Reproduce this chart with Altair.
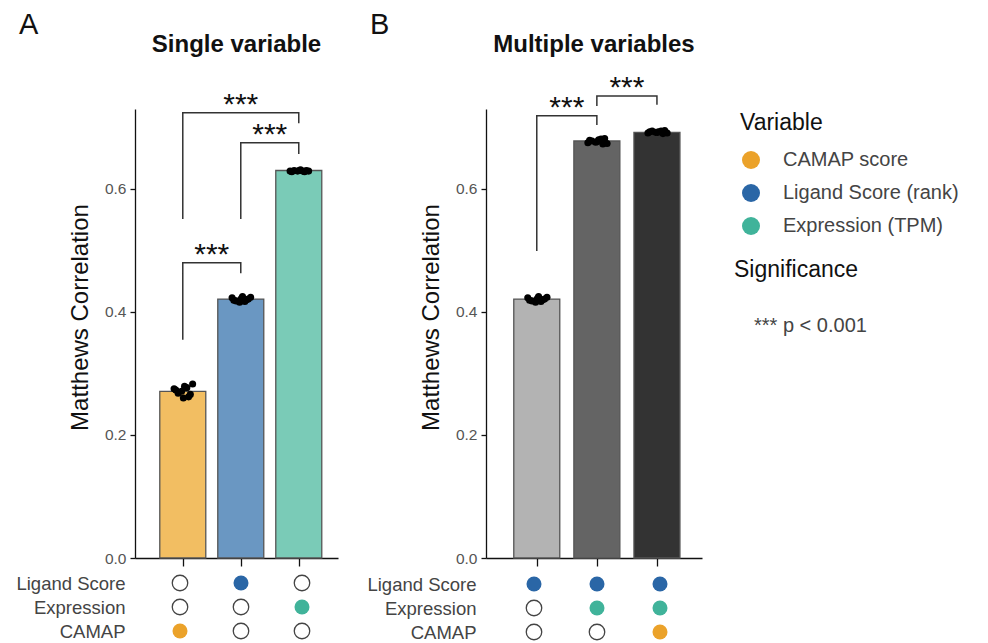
import altair as alt
import pandas as pd

FONT = "Liberation Sans"

# ---------------- data ----------------
single_names = ["CAMAP", "Ligand", "Expression"]
single_means = [0.271, 0.421, 0.630]
single_fills = ["#F2BE62", "#6A97C2", "#7ACBB7"]
single_reps = [
    [0.275, 0.268, 0.262, 0.279, 0.271, 0.266, 0.283, 0.273, 0.260, 0.277],
    [0.423, 0.418, 0.420, 0.425, 0.416, 0.421, 0.424, 0.419, 0.422, 0.417],
    [0.629, 0.630, 0.628, 0.631, 0.629, 0.630, 0.629, 0.628, 0.630, 0.629],
]

multi_names = ["Ligand", "Ligand + Expression", "Ligand + Expression + CAMAP"]
multi_means = [0.421, 0.678, 0.692]
multi_fills = ["#B3B3B3", "#646464", "#333333"]
multi_reps = [
    [0.423, 0.418, 0.420, 0.425, 0.416, 0.421, 0.424, 0.419, 0.422, 0.417],
    [0.675, 0.678, 0.673, 0.680, 0.676, 0.682, 0.674, 0.679, 0.677, 0.681],
    [0.691, 0.694, 0.690, 0.693, 0.692, 0.695, 0.691, 0.693, 0.692, 0.694],
]
rep_jitter = [-0.15, -0.08, 0.10, 0.03, -0.02, 0.13, 0.17, -0.12, 0.01, 0.07]

matrix_rows = ["Ligand Score", "Expression", "CAMAP"]
row_variables = ["Ligand Score (rank)", "Expression (TPM)", "CAMAP score"]
legend_order = ["CAMAP score", "Ligand Score (rank)", "Expression (TPM)"]
legend_colors = ["#EBA22A", "#2A66A6", "#40B39A"]
# membership per bar, in matrix_rows order
single_matrix = [[0, 0, 1], [1, 0, 0], [0, 1, 0]]
multi_matrix = [[1, 0, 0], [1, 1, 0], [1, 1, 1]]

# brackets: (from bar, to bar, top, left leg end, right leg end)
single_brackets = [(0, 1, 0.480, 0.355, 0.463),
                   (1, 2, 0.675, 0.551, 0.657),
                   (0, 2, 0.724, 0.551, 0.707)]
multi_brackets = [(0, 1, 0.719, 0.499, 0.704),
                  (1, 2, 0.751, 0.735, 0.737)]
sig_label = "***"
sig_meaning = "p < 0.001"

y_ticks = [0.0, 0.2, 0.4, 0.6]
y_max = 0.73

# legend placement (pixels, relative to the first plot's origin)
LEG_X = 605


def make_panel(names, means, fills, reps, matrix, brackets, title, letter,
               xdom, width, title_offset, gap):
    idx = list(range(len(names)))
    bars_df = pd.DataFrame({"idx": idx, "name": names, "mean": means})
    pts = []
    for i, vals in enumerate(reps):
        for j, v in zip(rep_jitter, vals):
            pts.append({"idx": i, "jit": j, "value": v})
    pts_df = pd.DataFrame(pts)
    br = []
    txt = []
    for b, (a, c, top, lo_a, lo_c) in enumerate(brackets):
        for k, (xx, yy) in enumerate([(a, lo_a), (a, top), (c, top), (c, lo_c)]):
            br.append({"bid": b, "ord": k, "x": xx, "y": yy})
        txt.append({"a": a, "c": c, "top": top, "label": sig_label,
                    "meaning": sig_meaning})
    br_df = pd.DataFrame(br)
    txt_df = pd.DataFrame(txt)

    xscale = alt.Scale(domain=xdom, nice=False, zero=False)
    yscale = alt.Scale(domain=[0, y_max], nice=False)
    xaxis = alt.Axis(values=idx, labels=False, title=None, grid=False,
                     tickSize=8, tickColor="#111", domainColor="#111",
                     tickWidth=1.3, domainWidth=1.3)
    yaxis = alt.Axis(values=y_ticks, format=".1f", grid=False,
                     title="Matthews Correlation", titleFontSize=24,
                     titleFontWeight="normal", titleColor="#111",
                     titlePadding=12, titleY=208,
                     labelFontSize=15.5, labelColor="#555",
                     labelPadding=4, tickSize=5, tickColor="#111",
                     domainColor="#111", tickWidth=1.3, domainWidth=1.3)
    YT = "Matthews Correlation"

    bars = alt.Chart(bars_df).mark_bar(size=46, stroke="#555", strokeWidth=1.3).encode(
        x=alt.X("idx:Q", scale=xscale, axis=xaxis, title=None),
        y=alt.Y("mean:Q", scale=yscale, axis=yaxis, title=YT),
        fill=alt.Fill("name:N", scale=alt.Scale(domain=names, range=fills), legend=None),
    )
    points = alt.Chart(pts_df).transform_calculate(
        xpos="datum.idx + datum.jit"
    ).mark_circle(size=50, color="black", opacity=1).encode(
        x=alt.X("xpos:Q", title=None),
        y=alt.Y("value:Q", title=YT),
    )
    lines = alt.Chart(br_df).mark_line(color="#333", strokeWidth=1.5).encode(
        x=alt.X("x:Q", title=None),
        y=alt.Y("y:Q", title=YT),
        detail="bid:N",
        order="ord:Q",
    )
    texts = alt.Chart(txt_df).transform_calculate(
        xmid="(datum.a + datum.c) / 2"
    ).mark_text(fontSize=30, baseline="alphabetic", dy=1, color="#111").encode(
        x=alt.X("xmid:Q", title=None),
        y=alt.Y("top:Q", title=YT),
        text="label:N",
        opacity=alt.Opacity(
            "meaning:N", scale=alt.Scale(range=[1]),
            legend=alt.Legend(
                title="Significance", orient="none", legendX=LEG_X - 6, legendY=150,
                titleFontSize=23, titleFontWeight="normal", titleColor="#111",
                titlePadding=34, labelFontSize=20, labelColor="#444",
                labelLimit=400,
                symbolSize=0, symbolStrokeWidth=0, symbolOpacity=0,
                labelOffset=0, padding=0,
                labelExpr="'***\u00a0' + datum.label",
            ),
        ),
    )
    top = alt.layer(bars, points, lines, texts).properties(
        width=width, height=round(y_max * 615),
        title=alt.Title(title, fontSize=24, fontWeight="bold", anchor="middle",
                        frame="group", offset=title_offset, color="#111"),
    )

    empty_rows, full_rows = [], []
    for i, mem in enumerate(matrix):
        for r, m in enumerate(mem):
            rec = {"idx": i, "row": matrix_rows[r], "variable": row_variables[r]}
            (full_rows if m else empty_rows).append(rec)
    rows_axis = alt.Axis(title=None, domain=False, ticks=False, grid=False,
                         labelFontSize=18.5, labelColor="#444", labelPadding=10)
    yrow = alt.Y("row:N", sort=matrix_rows,
                 scale=alt.Scale(domain=matrix_rows, padding=0.375),
                 axis=rows_axis, title=None)
    xrow = alt.X("idx:Q", scale=xscale, axis=None)
    empty = alt.Chart(pd.DataFrame(empty_rows)).mark_point(
        shape="circle", size=240, filled=True, fill="white", stroke="#444",
        strokeWidth=1.3, opacity=1
    ).encode(x=xrow, y=yrow)
    full = alt.Chart(pd.DataFrame(full_rows)).mark_circle(size=225, opacity=1).encode(
        x=xrow, y=yrow,
        color=alt.Color(
            "variable:N",
            scale=alt.Scale(domain=legend_order, range=legend_colors),
            legend=alt.Legend(
                title="Variable", orient="none", legendX=LEG_X, legendY=3,
                titleFontSize=23, titleFontWeight="normal", titleColor="#111",
                titlePadding=15, labelFontSize=20, labelColor="#444",
                labelLimit=400,
                symbolType="circle", symbolSize=324, symbolStrokeWidth=0,
                symbolOffset=1, labelOffset=22, rowPadding=13, padding=0,
            ),
        ),
    )
    dots = alt.layer(empty, full).properties(width=width, height=66)

    return alt.vconcat(
        top, dots, spacing=gap,
        title=alt.Title(letter, anchor="start", fontSize=29, fontWeight="normal",
                        offset=-7, dx=3, color="#111"),
    ).resolve_scale(color="shared", opacity="shared")


panel_a = make_panel(single_names, single_means, single_fills, single_reps,
                     single_matrix, single_brackets, "Single variable", "A",
                     [-45 / 61, 158 / 61], 203, 33, 5)
panel_b = make_panel(multi_names, multi_means, multi_fills, multi_reps,
                     multi_matrix, multi_brackets, "Multiple variables", "B",
                     [-48 / 63, 168 / 63], 216, 16, 8)

chart = alt.hconcat(panel_a, panel_b, spacing=28).resolve_scale(
    color="shared", opacity="shared", fill="independent"
).properties(
    padding={"left": 7, "top": 2, "right": 5, "bottom": 0}
).configure(font=FONT, view=alt.ViewConfig(stroke=None))

chart.save("out.html", embed_options={"renderer": "svg", "actions": False})
